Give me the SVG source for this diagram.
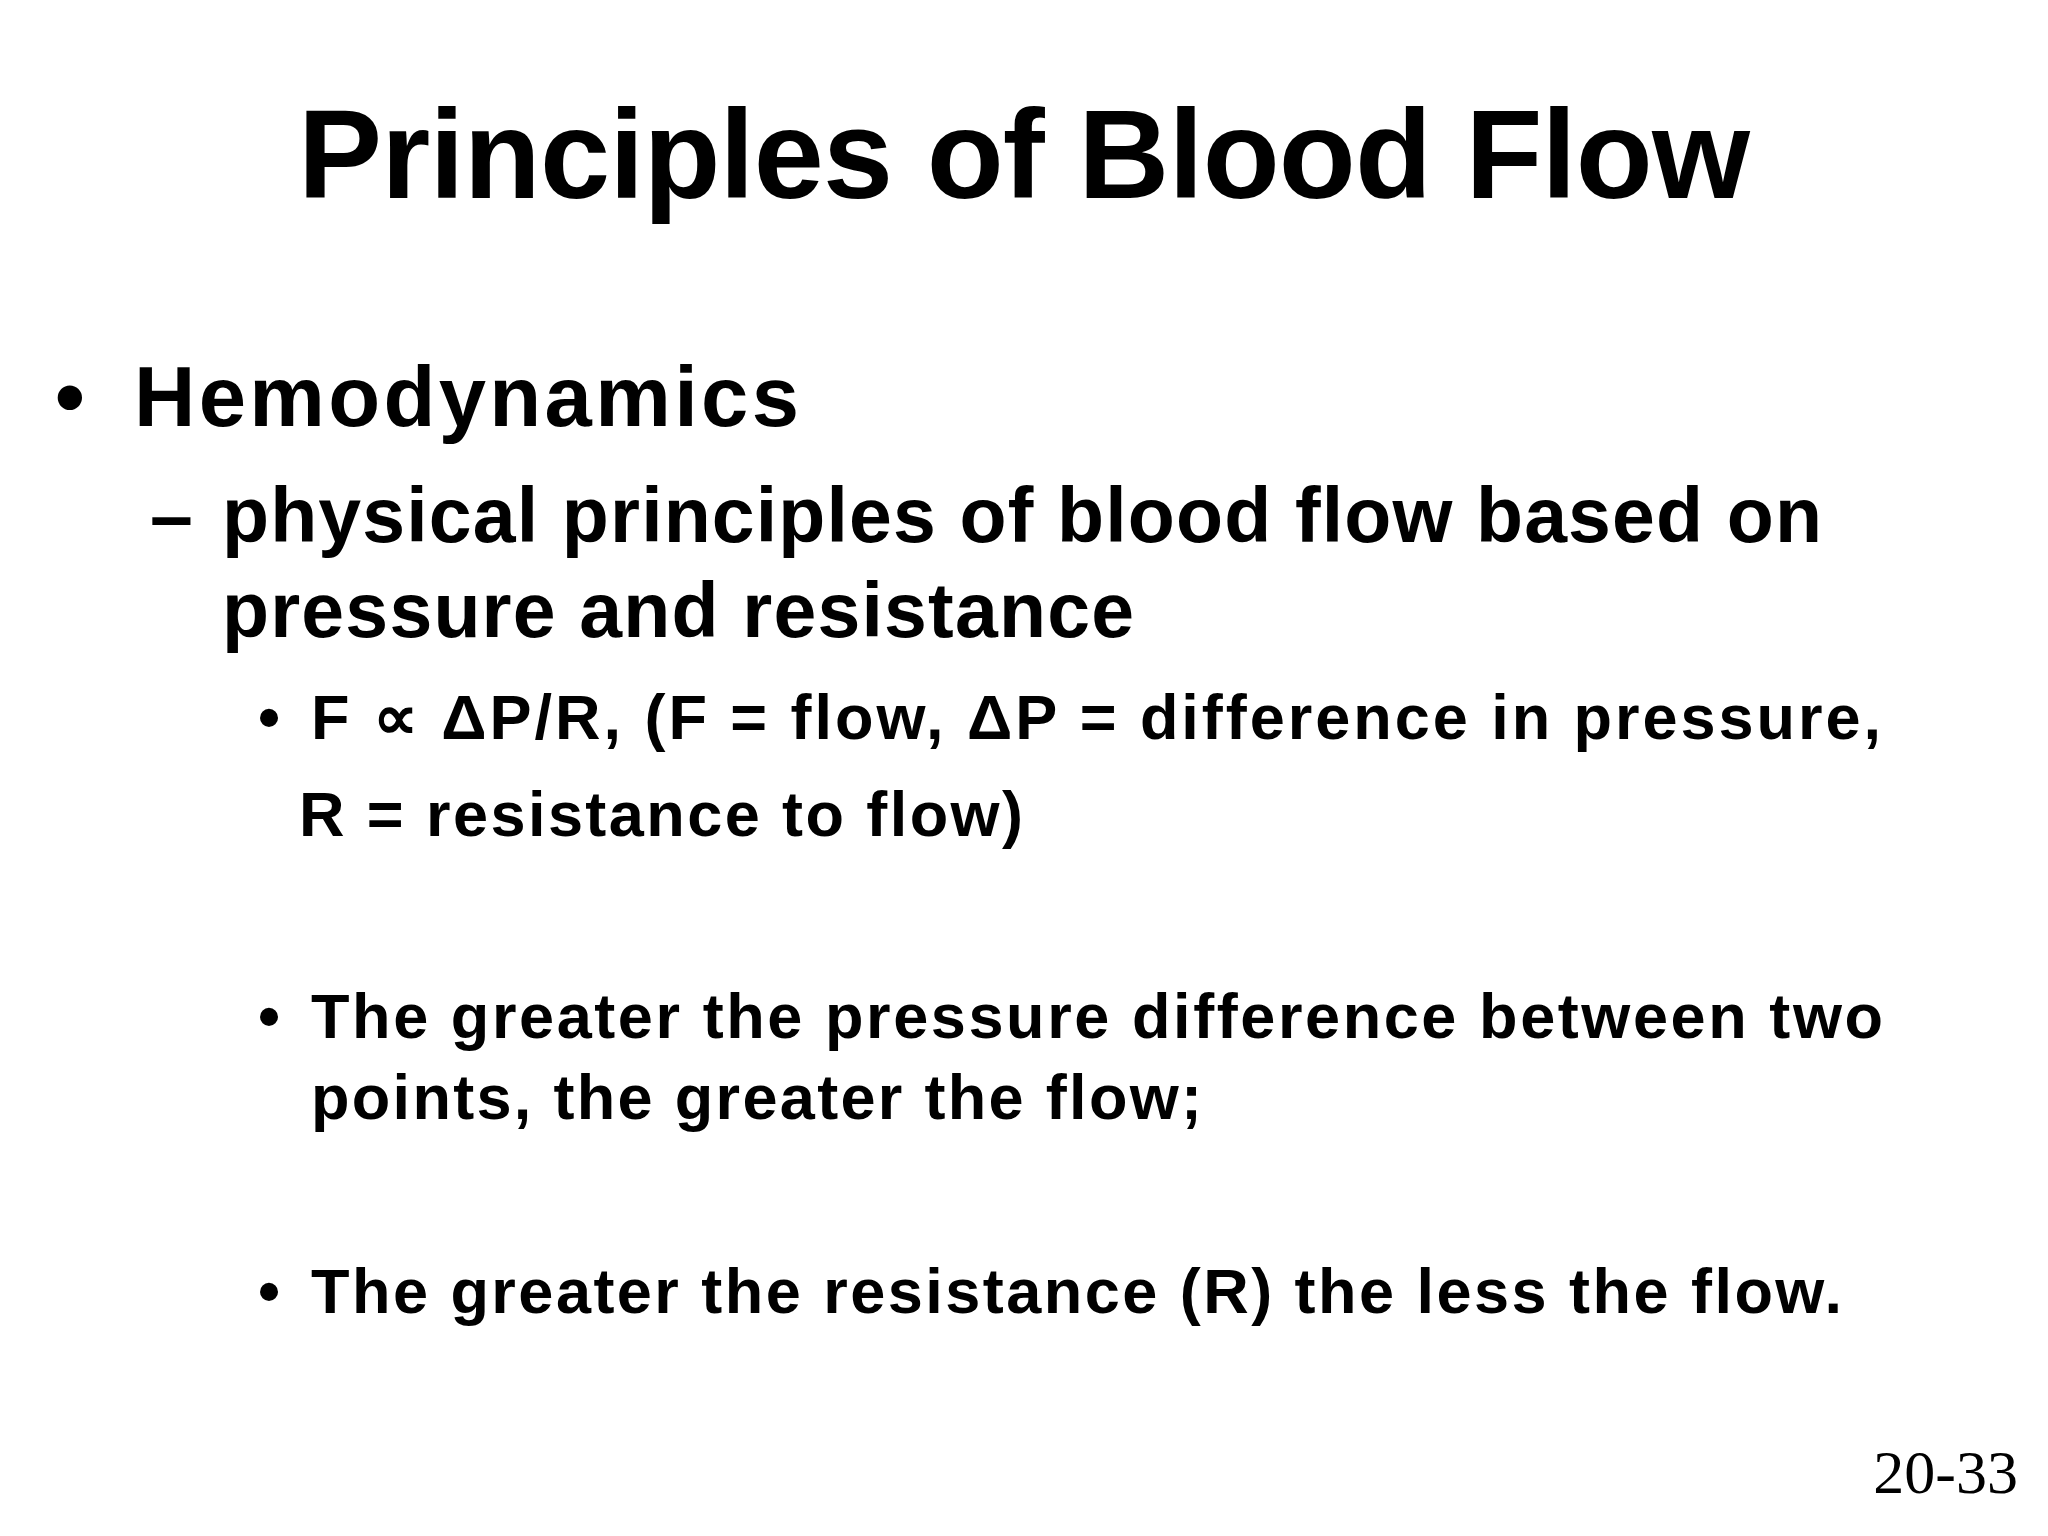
<svg xmlns="http://www.w3.org/2000/svg" width="2048" height="1536" viewBox="0 0 2048 1536">
<style>
text{font-family:"Liberation Sans",Arial,sans-serif;font-weight:bold;fill:#000}
.l1{font-size:85px}.l2{font-size:77px}.l3{font-size:63px}
</style>
<rect width="2048" height="1536" fill="#fff"/>
<g id="title"><text x="298" y="198" font-size="126" textLength="1452" lengthAdjust="spacing">Principles of Blood Flow</text></g>
<g id="b1"><text class="l1" x="55" y="426">•</text><text class="l1" x="134" y="426" textLength="665" lengthAdjust="spacing">Hemodynamics</text></g>
<g id="b2"><text class="l2" x="150" y="542">–</text><text class="l2" x="222" y="542" textLength="1600" lengthAdjust="spacing">physical principles of blood flow based on</text><text class="l2" x="222" y="637" textLength="912" lengthAdjust="spacing">pressure and resistance</text></g>
<g id="b3"><text class="l3" x="258" y="739">•</text><text class="l3" x="311" y="739" textLength="1570" lengthAdjust="spacing">F ∝ ΔP/R,  (F = flow, ΔP = difference in pressure,</text><text class="l3" x="299" y="836" textLength="724" lengthAdjust="spacing">R = resistance to flow)</text></g>
<g id="b4"><text class="l3" x="258" y="1038">•</text><text class="l3" x="311" y="1038" textLength="1572" lengthAdjust="spacing">The greater the pressure difference between two</text><text class="l3" x="311" y="1119" textLength="891" lengthAdjust="spacing">points, the greater the flow;</text></g>
<g id="b5"><text class="l3" x="258" y="1313">•</text><text class="l3" x="311" y="1313" textLength="1531" lengthAdjust="spacing">The greater the resistance (R) the less the flow.</text></g>
<g id="pg"><text x="2018" y="1493" font-size="62" text-anchor="end" style="font-family:'Liberation Serif','Times New Roman',serif;font-weight:normal">20-33</text></g>
</svg>
